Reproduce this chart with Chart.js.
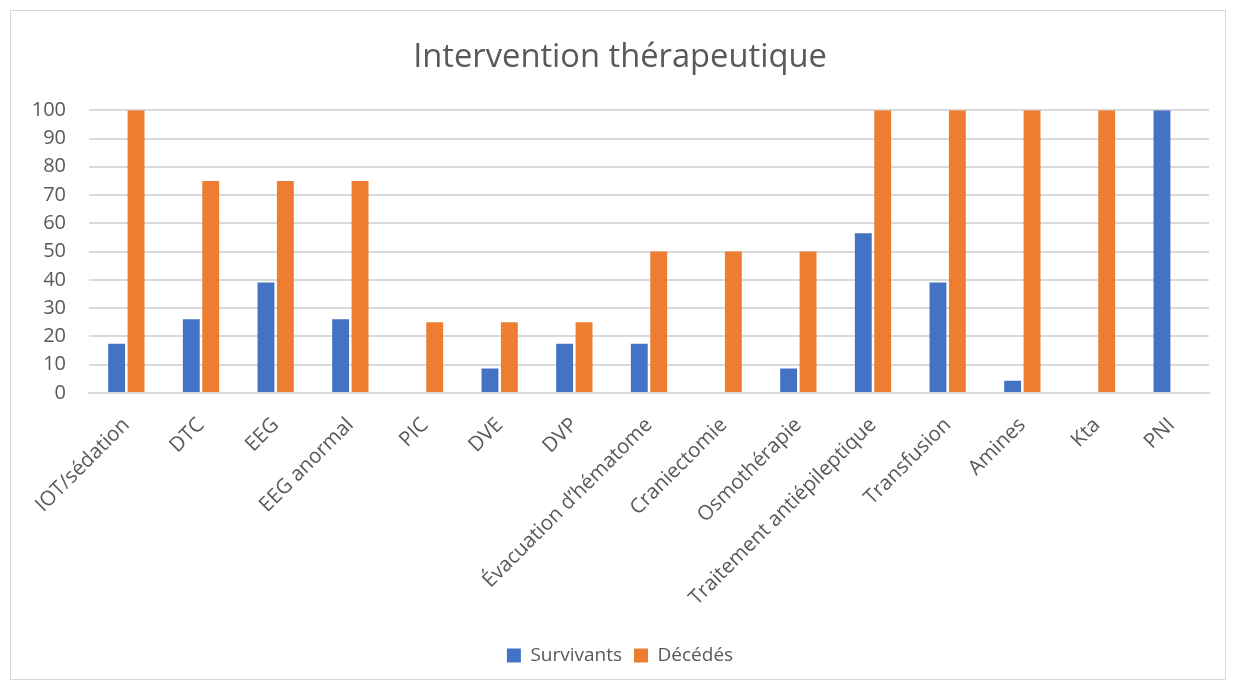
<!DOCTYPE html>
<html lang="fr">
<head>
<meta charset="utf-8">
<title>Intervention thérapeutique</title>
<script src="https://cdn.jsdelivr.net/npm/chart.js@4/dist/chart.umd.min.js"></script>
<style>
	html, body {
		margin: 0;
		padding: 0;
		background: #ffffff;
	}
	.frame {
		position: absolute;
		left: 10px;
		top: 10px;
		width: 1214px;
		height: 668px;
		border: 1px solid #d9d9d9;
		background: #ffffff;
	}
	.frame canvas {
		display: block;
	}
</style>
</head>
<body>
<div class="frame">
	<canvas id="chart" width="1214" height="668"></canvas>
</div>
<script>
	'use strict';

	const CATEGORIES = [
		'IOT/sédation',
		'DTC',
		'EEG',
		'EEG anormal',
		'PIC',
		'DVE',
		'DVP',
		'Évacuation d’hématome',
		'Craniectomie',
		'Osmothérapie',
		'Traitement antiépileptique',
		'Transfusion',
		'Amines',
		'Kta',
		'PNI',
	];
	const SURVIVANTS = [ 17.4, 26.1, 39.1, 26.1, 0, 8.7, 17.4, 17.4, 0, 8.7, 56.5, 39.1, 4.3, 0, 100 ];
	const DECEDES = [ 100, 75, 75, 75, 25, 25, 25, 50, 50, 50, 100, 100, 100, 100, 0 ];

	const TEXT_COLOR = '#595959';
	const GRID_COLOR = '#d9d9d9';
	const FONT = '"Open Sans", sans-serif';

	new Chart( document.getElementById( 'chart' ).getContext( '2d' ), {
		type: 'bar',
		data: {
			labels: CATEGORIES,
			datasets: [
				{
					label: 'Survivants',
					data: SURVIVANTS,
					backgroundColor: '#4472c4',
				},
				{
					label: 'Décédés',
					data: DECEDES,
					backgroundColor: '#ed7d31',
				},
			],
		},
		options: {
			responsive: false,
			animation: false,
			datasets: {
				bar: {
					categoryPercentage: 0.52,
					barPercentage: 0.87,
				},
			},
			layout: {
				padding: { left: 20, right: 16, top: 10, bottom: 4 },
			},
			plugins: {
				title: {
					display: true,
					text: 'Intervention thérapeutique',
					color: TEXT_COLOR,
					font: { family: FONT, size: 32.7, weight: 'normal' },
					padding: { top: 17, bottom: 33 },
				},
				legend: {
					position: 'bottom',
					labels: {
						color: TEXT_COLOR,
						font: { family: FONT, size: 19 },
						boxWidth: 14,
						boxHeight: 14,
						padding: 12,
					},
				},
				tooltip: { enabled: false },
			},
			scales: {
				x: {
					grid: { display: false, drawTicks: false },
					border: { display: true, color: GRID_COLOR, width: 2 },
					ticks: {
						color: TEXT_COLOR,
						font: { family: FONT, size: 20.5 },
						minRotation: 45,
						maxRotation: 45,
						autoSkip: false,
						padding: 20,
					},
					afterFit: function ( scale ) {
						// keep the plot's left edge where the y axis puts it
						scale.paddingLeft = 0;
						scale.height = 241;
					},
				},
				y: {
					min: 0,
					max: 100,
					grid: { color: GRID_COLOR, lineWidth: 2, drawTicks: false },
					border: { display: false },
					ticks: {
						stepSize: 10,
						color: TEXT_COLOR,
						font: { family: FONT, size: 20 },
						padding: 23,
					},
					afterFit: function ( scale ) {
						scale.width = 58;
					},
				},
			},
		},
	} );
</script>
</body>
</html>
